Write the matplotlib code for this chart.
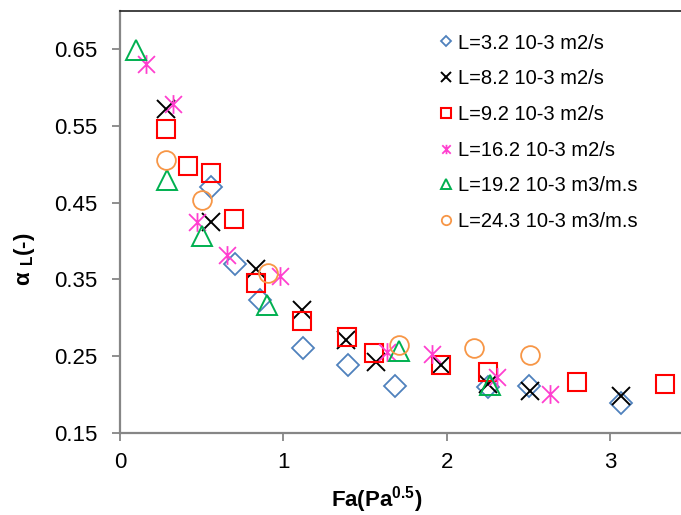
import matplotlib

matplotlib.use("Agg")
import matplotlib.pyplot as plt
from matplotlib.path import Path

plt.rcParams["font.family"] = ["Liberation Sans", "DejaVu Sans"]
plt.rcParams["mathtext.fontset"] = "custom"
plt.rcParams["mathtext.rm"] = "Liberation Sans"
plt.rcParams["mathtext.bf"] = "Liberation Sans:bold"

# data: Fa (Pa^0.5) and alpha_L (-)
fa_32 = [0.559, 0.702, 0.857, 1.123, 1.398, 1.686, 2.255, 2.505, 3.068]
al_32 = [0.470, 0.370, 0.323, 0.261, 0.238, 0.211, 0.210, 0.211, 0.189]

fa_82 = [0.28, 0.559, 0.833, 1.112, 1.384, 1.566, 1.964, 2.255, 2.511, 3.068]
al_82 = [0.572, 0.424, 0.364, 0.310, 0.271, 0.242, 0.238, 0.213, 0.205, 0.198]

fa_92 = [0.28, 0.418, 0.557, 0.70, 0.835, 1.112, 1.388, 1.555, 1.964, 2.255, 2.80, 3.337]
al_92 = [0.546, 0.497, 0.489, 0.429, 0.345, 0.296, 0.275, 0.254, 0.238, 0.229, 0.216, 0.214]

fa_162 = [0.157, 0.326, 0.47, 0.653, 0.98, 1.635, 1.909, 2.307, 2.633]
al_162 = [0.630, 0.579, 0.425, 0.381, 0.354, 0.255, 0.252, 0.223, 0.200]

fa_192 = [0.098, 0.29, 0.504, 0.902, 1.709, 2.266]
al_192 = [0.649, 0.479, 0.407, 0.316, 0.256, 0.212]

fa_243 = [0.282, 0.502, 0.904, 1.709, 2.17, 2.511]
al_243 = [0.505, 0.453, 0.358, 0.264, 0.261, 0.251]

labels = [
    "L=3.2 10-3 m2/s",
    "L=8.2 10-3 m2/s",
    "L=9.2 10-3 m2/s",
    "L=16.2 10-3 m2/s",
    "L=19.2 10-3 m3/m.s",
    "L=24.3 10-3 m3/m.s",
]
y_ticks = [0.15, 0.25, 0.35, 0.45, 0.55, 0.65]
x_ticks = [0, 1, 2, 3]

# excel-style asterisk: vertical bar plus an X inside the same square
STAR = Path(
    [(0, -1), (0, 1), (-0.9, -0.9), (0.9, 0.9), (-0.9, 0.9), (0.9, -0.9)],
    [Path.MOVETO, Path.LINETO, Path.MOVETO, Path.LINETO, Path.MOVETO, Path.LINETO],
)

series = [
    (fa_32, al_32, "D", "#4F81BD", 10.8, 1.3),
    (fa_82, al_82, "x", "black", 13, 1.4),
    (fa_92, al_92, "s", "#FF0000", 13.5, 1.5),
    (fa_162, al_162, STAR, "#FF3FCF", 13.5, 1.3),
    (fa_192, al_192, "^", "#00B050", 14, 1.4),
    (fa_243, al_243, "o", "#F79646", 13.5, 1.3),
]

fig = plt.figure(figsize=(6.81, 5.15), dpi=100)
ax = fig.add_axes([0.1762, 0.1598, 0.8238, 0.8194])

handles = []
for (xs, ys, marker, color, size, mew), label in zip(series, labels):
    h, = ax.plot(xs, ys, linestyle="none", marker=marker, markersize=size,
                 markerfacecolor="none", markeredgecolor=color,
                 markeredgewidth=mew, label=label)
    handles.append(h)

ax.set_xlim(0, 3.435)
ax.set_ylim(0.15, 0.70)
ax.set_xticks(x_ticks)
ax.set_yticks(y_ticks)
ax.set_yticklabels([f"{v:.2f}" for v in y_ticks])

for side in ["left", "bottom"]:
    ax.spines[side].set_color("#868686")
    ax.spines[side].set_linewidth(1.6)
ax.spines["right"].set_visible(False)
ax.spines["top"].set_color("#222222")
ax.spines["top"].set_linewidth(1.2)

ax.tick_params(axis="both", direction="out", length=6, width=1.3,
               color="#868686", labelsize=16)
ax.tick_params(axis="x", pad=8)
ax.tick_params(axis="y", pad=10)

ax.set_xlabel("Fa(Pa$^{\\mathbf{0.5}}$)", fontsize=16, fontweight="bold")
ax.set_ylabel("α $_{\\mathbf{L}}$(-)", fontsize=16, fontweight="bold")
ax.xaxis.set_label_coords(0.458, -0.122)
ax.yaxis.set_label_coords(-0.148, 0.41)

leg = ax.legend(handles=handles, loc="upper left", bbox_to_anchor=(0.556, 0.965),
                frameon=False, fontsize=14.5, markerscale=0.5, handlelength=0.6,
                handletextpad=0.3, labelspacing=0.83, borderaxespad=0)

fig.savefig("out.png", dpi=100)
